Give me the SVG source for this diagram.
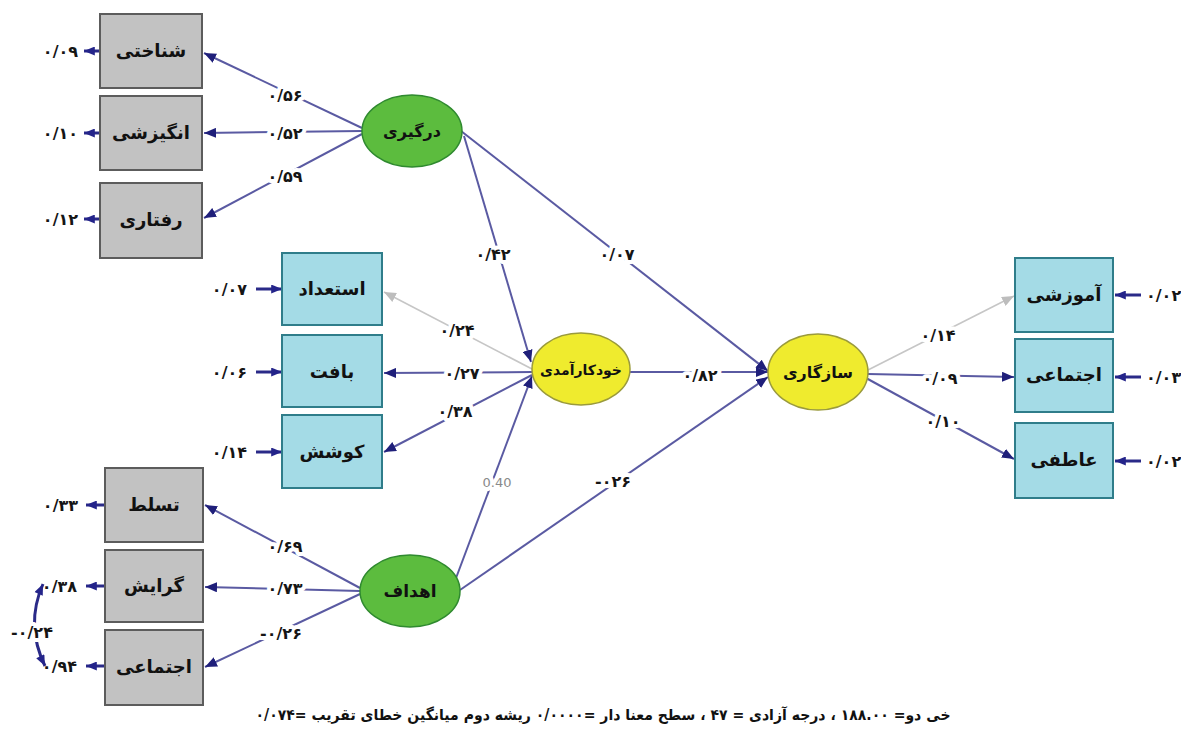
<svg xmlns="http://www.w3.org/2000/svg" width="1181" height="731" viewBox="0 0 1181 731">
<defs>
<style>
.bg{fill:#ffffff}
.gbox{fill:#c2c2c2;stroke:#5c5c5c;stroke-width:2}
.bbox{fill:#a4dbe6;stroke:#2f7d8a;stroke-width:2}
.gell{fill:#5cbc3e;stroke:#2f8a2f;stroke-width:1.5}
.yell{fill:#efeb2e;stroke:#9a9a3c;stroke-width:1.5}
.path{fill:none;stroke:#5a5aa2;stroke-width:2}
.gray{fill:none;stroke:#c6c6c6;stroke-width:1.6}
.err{fill:none;stroke:#2a2a88;stroke-width:3}
.nl{font-family:"DejaVu Sans",sans-serif;font-weight:bold;font-size:18px;fill:#111;text-anchor:middle}
.el{font-family:"DejaVu Sans",sans-serif;font-weight:bold;font-size:16px;fill:#151515;text-anchor:middle;paint-order:stroke;stroke:#fff;stroke-width:8px;stroke-linejoin:round}
.er{font-family:"DejaVu Sans",sans-serif;font-weight:bold;font-size:16px;fill:#151515}
.lat{font-family:"DejaVu Sans",sans-serif;font-size:13px;fill:#8a8a8a;text-anchor:middle;paint-order:stroke;stroke:#fff;stroke-width:8px;stroke-linejoin:round}
.cap{font-family:"DejaVu Sans",sans-serif;font-weight:bold;font-size:15px;fill:#111}
</style>
<marker id="ah" viewBox="0 0 12 10" refX="12" refY="5" markerWidth="12" markerHeight="10" markerUnits="userSpaceOnUse" orient="auto"><path d="M0,0 L12,5 L0,10 z" fill="#1f1f7a"/></marker>
<marker id="ahg" viewBox="0 0 12 10" refX="12" refY="5" markerWidth="12" markerHeight="10" markerUnits="userSpaceOnUse" orient="auto"><path d="M0,0 L12,5 L0,10 z" fill="#bdbdbd"/></marker>
<marker id="ahe" viewBox="0 0 12 10" refX="12" refY="5" markerWidth="12" markerHeight="9" markerUnits="userSpaceOnUse" orient="auto-start-reverse"><path d="M0,0 L12,5 L0,10 z" fill="#24248a"/></marker>
</defs>
<rect class="bg" x="0" y="0" width="1181" height="731"/>

<g id="connectors">
<line class="path" x1="362" y1="128" x2="204" y2="53" marker-end="url(#ah)"/>
<line class="path" x1="362" y1="131" x2="204" y2="133" marker-end="url(#ah)"/>
<line class="path" x1="362" y1="134" x2="204" y2="218" marker-end="url(#ah)"/>
<line class="path" x1="464" y1="136" x2="531" y2="362" marker-end="url(#ah)"/>
<line class="path" x1="461" y1="131" x2="768" y2="371" marker-end="url(#ah)"/>
<line class="path" x1="630" y1="372" x2="768" y2="372" marker-end="url(#ah)"/>
<line class="path" x1="456" y1="578" x2="532" y2="376" marker-end="url(#ah)"/>
<line class="path" x1="460" y1="590" x2="768" y2="377" marker-end="url(#ah)"/>
<line class="gray" x1="532" y1="369" x2="384" y2="292" marker-end="url(#ahg)"/>
<line class="path" x1="532" y1="372" x2="384" y2="373" marker-end="url(#ah)"/>
<line class="path" x1="532" y1="375" x2="384" y2="452" marker-end="url(#ah)"/>
<line class="path" x1="360" y1="588" x2="205" y2="505" marker-end="url(#ah)"/>
<line class="path" x1="360" y1="591" x2="205" y2="587" marker-end="url(#ah)"/>
<line class="path" x1="360" y1="594" x2="205" y2="667" marker-end="url(#ah)"/>
<line class="gray" x1="868" y1="370" x2="1014" y2="296" marker-end="url(#ahg)"/>
<line class="path" x1="868" y1="374" x2="1014" y2="377" marker-end="url(#ah)"/>
<line class="path" x1="866" y1="378" x2="1014" y2="459" marker-end="url(#ah)"/>
<line class="err" x1="100" y1="51" x2="84" y2="51" marker-end="url(#ahe)"/>
<line class="err" x1="100" y1="133" x2="84" y2="133" marker-end="url(#ahe)"/>
<line class="err" x1="100" y1="219" x2="84" y2="219" marker-end="url(#ahe)"/>
<line class="err" x1="256" y1="289" x2="282" y2="289" marker-end="url(#ahe)"/>
<line class="err" x1="256" y1="372" x2="282" y2="372" marker-end="url(#ahe)"/>
<line class="err" x1="256" y1="452" x2="282" y2="452" marker-end="url(#ahe)"/>
<line class="err" x1="105" y1="505" x2="86" y2="505" marker-end="url(#ahe)"/>
<line class="err" x1="105" y1="586" x2="86" y2="586" marker-end="url(#ahe)"/>
<line class="err" x1="105" y1="666" x2="86" y2="666" marker-end="url(#ahe)"/>
<line class="err" x1="1141" y1="295" x2="1115" y2="295" marker-end="url(#ahe)"/>
<line class="err" x1="1141" y1="377" x2="1115" y2="377" marker-end="url(#ahe)"/>
<line class="err" x1="1141" y1="461" x2="1115" y2="461" marker-end="url(#ahe)"/>
<path class="err" d="M43,584 Q25,625 45,666" marker-start="url(#ahe)" marker-end="url(#ahe)"/>
</g>

<g id="edge-labels">
<text class="el" x="285" y="101">۰/۵۶</text>
<text class="el" x="285" y="139">۰/۵۲</text>
<text class="el" x="285" y="182">۰/۵۹</text>
<text class="el" x="493" y="260">۰/۴۲</text>
<text class="el" x="617" y="260">۰/۰۷</text>
<text class="el" x="457" y="336">۰/۲۴</text>
<text class="el" x="462" y="379">۰/۲۷</text>
<text class="el" x="455" y="417">۰/۳۸</text>
<text class="el" x="700" y="381">۰/۸۲</text>
<text class="lat" x="497" y="487">0.40</text>
<text class="el" x="613" y="487">-۰۲۶</text>
<text class="el" x="285" y="552">۰/۶۹</text>
<text class="el" x="285" y="594">۰/۷۳</text>
<text class="el" x="281" y="639">-۰/۲۶</text>
<text class="el" x="938" y="341">۰/۱۴</text>
<text class="el" x="940" y="384">۰/۰۹</text>
<text class="el" x="943" y="427">۰/۱۰</text>
<text class="el" x="32" y="638">-۰/۲۴</text>
<text class="er" x="78" y="57" text-anchor="end">۰/۰۹</text>
<text class="er" x="78" y="139" text-anchor="end">۰/۱۰</text>
<text class="er" x="78" y="225" text-anchor="end">۰/۱۲</text>
<text class="er" x="247" y="295" text-anchor="end">۰/۰۷</text>
<text class="er" x="247" y="378" text-anchor="end">۰/۰۶</text>
<text class="er" x="247" y="458" text-anchor="end">۰/۱۴</text>
<text class="er" x="78" y="511" text-anchor="end">۰/۳۳</text>
<text class="er" x="77" y="592" text-anchor="end">۰/۳۸</text>
<text class="er" x="77" y="672" text-anchor="end">۰/۹۴</text>
<text class="er" x="1146" y="301">۰/۰۲</text>
<text class="er" x="1146" y="383">۰/۰۳</text>
<text class="er" x="1146" y="467">۰/۰۲</text>
</g>

<g id="n-shenakhti"><rect class="gbox" x="100" y="14" width="102" height="74"/><text class="nl" x="151" y="57">شناختی</text></g>
<g id="n-angizeshi"><rect class="gbox" x="100" y="96" width="102" height="74"/><text class="nl" x="151" y="139">انگیزشی</text></g>
<g id="n-raftari"><rect class="gbox" x="100" y="183" width="102" height="75"/><text class="nl" x="151" y="226">رفتاری</text></g>

<g id="n-estedad"><rect class="bbox" x="282" y="253" width="100" height="72"/><text class="nl" x="332" y="295">استعداد</text></g>
<g id="n-baft"><rect class="bbox" x="282" y="335" width="100" height="72"/><text class="nl" x="332" y="378">بافت</text></g>
<g id="n-kooshesh"><rect class="bbox" x="282" y="415" width="100" height="73"/><text class="nl" x="332" y="458">کوشش</text></g>

<g id="n-tasallot"><rect class="gbox" x="105" y="468" width="98" height="74"/><text class="nl" x="154" y="511">تسلط</text></g>
<g id="n-gerayesh"><rect class="gbox" x="105" y="550" width="98" height="72"/><text class="nl" x="154" y="592">گرایش</text></g>
<g id="n-ejtemaei-l"><rect class="gbox" x="105" y="630" width="98" height="75"/><text class="nl" x="154" y="673">اجتماعی</text></g>

<g id="n-amoozeshi"><rect class="bbox" x="1015" y="258" width="98" height="74"/><text class="nl" x="1064" y="301">آموزشی</text></g>
<g id="n-ejtemaei-r"><rect class="bbox" x="1015" y="339" width="98" height="73"/><text class="nl" x="1064" y="381">اجتماعی</text></g>
<g id="n-atefi"><rect class="bbox" x="1015" y="423" width="98" height="75"/><text class="nl" x="1064" y="466">عاطفی</text></g>

<g id="n-dargiri"><ellipse class="gell" cx="412" cy="131" rx="50" ry="36"/><text class="nl" x="412" y="137" style="font-size:16px">درگیری</text></g>
<g id="n-khodkaramadi"><ellipse class="yell" cx="581" cy="369" rx="49" ry="36"/><text class="nl" x="581" y="375" style="font-size:14px">خودکارآمدی</text></g>
<g id="n-sazgari"><ellipse class="yell" cx="818" cy="372" rx="50" ry="38"/><text class="nl" x="818" y="378" style="font-size:16px">سازگاری</text></g>
<g id="n-ahdaf"><ellipse class="gell" cx="410" cy="591" rx="50" ry="36"/><text class="nl" x="410" y="597" style="font-size:17px">اهداف</text></g>

<g id="caption"><text class="cap" x="603" y="720" text-anchor="middle" direction="rtl" textLength="695" lengthAdjust="spacingAndGlyphs">خی دو= ۱۸۸.۰۰ ، درجه آزادی = ۴۷ ، سطح معنا دار =۰/۰۰۰۰   ریشه دوم میانگین خطای تقریب =۰/۰۷۴</text></g>
</svg>
